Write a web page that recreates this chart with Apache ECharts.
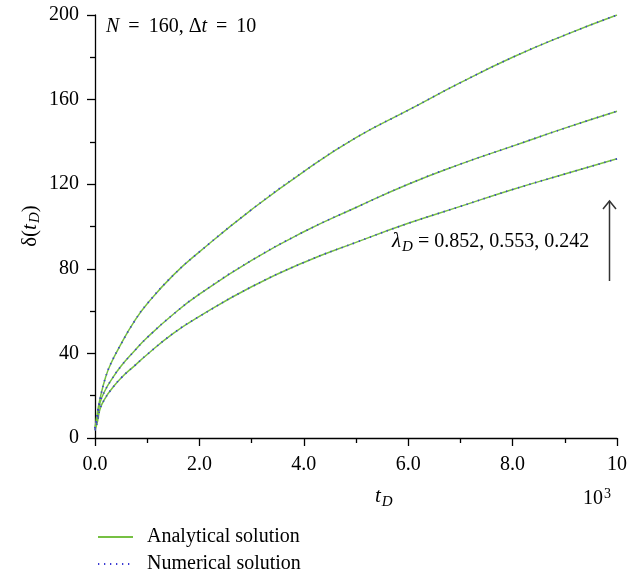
<!DOCTYPE html>
<html>
<head>
<meta charset="utf-8">
<script src="https://cdn.jsdelivr.net/npm/echarts@6/dist/echarts.min.js"></script>
<style>
html,body{margin:0;padding:0;background:#fff;}
#chart{width:644px;height:579px;}
</style>
</head>
<body>
<div id="chart"></div>
<script>
// time t_D (x 10^3)
var tD = [0, 0.05, 0.1, 0.2, 0.3, 0.5, 0.75, 1, 1.5, 2, 3, 4, 5, 6, 7, 8, 9, 10];
// lambda_D = 0.852
var delta852 = [4.6, 12.5, 19, 28.5, 35, 44.5, 55, 63.5, 77, 88, 108, 126, 142, 155, 168, 180, 190.5, 200];
// lambda_D = 0.553
var delta553 = [4.5, 10, 17, 22.8, 27, 34, 41, 47.5, 58.5, 68, 84, 97.5, 109, 120, 129.5, 138, 146.5, 154.5];
// lambda_D = 0.242
var delta242 = [3.6, 8, 14, 19, 22.6, 28.4, 34, 39.5, 49.5, 57.5, 71.5, 83, 92.5, 101.5, 109.5, 117.5, 124.8, 132];
var xTicks = ['0.0', '2.0', '4.0', '6.0', '8.0', '10'];
var yTicks = [0, 40, 80, 120, 160, 200];
var seriesNames = ['Analytical solution', 'Numerical solution'];

var FONT = 'Liberation Serif';
var GREEN = '#76c043';
var BLUE = '#3a3ad2';

function pairs(ys) { return tD.map(function (t, i) { return [t, ys[i]]; }); }

var curves = [delta852, delta553, delta242];
var series = [];
curves.forEach(function (c) {
  series.push({
    name: seriesNames[0], type: 'line', data: pairs(c), symbol: 'none', smooth: 0.5,
    lineStyle: { color: GREEN, width: 1.5 }, itemStyle: { color: GREEN }, z: 2
  });
});
curves.forEach(function (c) {
  series.push({
    name: seriesNames[1], type: 'line', data: pairs(c), symbol: 'none', smooth: 0.5,
    lineStyle: { color: BLUE, width: 1.7, type: [1.3, 4.7] }, itemStyle: { color: BLUE }, z: 3
  });
});

var chart = echarts.init(document.getElementById('chart'));
var axisCommon = {
  axisLine: { show: true, lineStyle: { color: '#000', width: 1.3 } },
  axisTick: { show: true, inside: false, length: 8, lineStyle: { color: '#000', width: 1.3 } },
  minorTick: { show: true, splitNumber: 2, length: 5, lineStyle: { color: '#000', width: 1.3 } },
  splitLine: { show: false },
  axisLabel: { color: '#000', fontFamily: FONT, fontSize: 20 }
};
chart.setOption({
  animation: false,
  backgroundColor: '#fff',
  grid: { left: 95, right: 27, top: 15, bottom: 141, containLabel: false },
  xAxis: Object.assign({}, axisCommon, {
    type: 'value', min: 0, max: 10, interval: 2,
    axisLabel: Object.assign({}, axisCommon.axisLabel, {
      margin: 17,
      formatter: function (v) { return xTicks[Math.round(v / 2)]; }
    })
  }),
  yAxis: Object.assign({}, axisCommon, {
    type: 'value', min: yTicks[0], max: yTicks[yTicks.length - 1], interval: 40,
    axisLabel: Object.assign({}, axisCommon.axisLabel, { margin: 16 })
  }),
  legend: {
    data: seriesNames, orient: 'vertical', left: 97, top: 527, height: 80, padding: 0,
    itemWidth: 35, itemHeight: 14, itemGap: 7,
    itemStyle: { opacity: 0 },
    textStyle: { fontFamily: FONT, fontSize: 20, color: '#000', padding: [0, 0, 0, 9] },
    selectedMode: false
  },
  series: series,
  graphic: [
    { type: 'text', left: 106, top: 17, style: {
      text: '{i|N} \u2009=\u2009 160, Δ{i|t} \u2009=\u2009 10', fontFamily: FONT, fontSize: 20, fill: '#000',
      rich: { i: { fontStyle: 'italic', fontFamily: FONT, fontSize: 20 } } } },
    { type: 'text', left: 392, top: 231, style: {
      text: '{l|λ}{s|D} = 0.852, 0.553, 0.242', fontFamily: FONT, fontSize: 20, fill: '#000',
      rich: { l: { fontStyle: 'italic', fontFamily: FONT, fontSize: 21 },
              s: { fontStyle: 'italic', fontFamily: FONT, fontSize: 15, padding: [11, 0, 0, 1] } } } },
    { type: 'line', shape: { x1: 609.5, y1: 281, x2: 609.5, y2: 201 }, style: { stroke: '#333', lineWidth: 1.5 } },
    { type: 'polyline', shape: { points: [[603, 209], [609.5, 201], [616, 209]] }, style: { stroke: '#333', lineWidth: 1.5, fill: null } },
    { type: 'text', left: 375, top: 486, style: {
      text: '{i|t}{s|D}', fontFamily: FONT, fontSize: 20, fill: '#000',
      rich: { i: { fontStyle: 'italic', fontFamily: FONT, fontSize: 21 },
              s: { fontStyle: 'italic', fontFamily: FONT, fontSize: 15, padding: [11, 0, 0, 1] } } } },
    { type: 'text', left: 583, top: 487, style: {
      text: '10{s|3}', fontFamily: FONT, fontSize: 20, fill: '#000',
      rich: { s: { fontFamily: FONT, fontSize: 14, padding: [0, 0, 10, 1] } } } },
    { type: 'text', x: 30, y: 226, rotation: Math.PI / 2, style: {
      text: 'δ({i|t}{s|D})', fontFamily: FONT, fontSize: 21, fill: '#000', align: 'center', verticalAlign: 'middle',
      rich: { i: { fontStyle: 'italic', fontFamily: FONT, fontSize: 21 },
              s: { fontStyle: 'italic', fontFamily: FONT, fontSize: 15, padding: [11, 0, 0, 1] } } } }
  ]
});
</script>
</body>
</html>
